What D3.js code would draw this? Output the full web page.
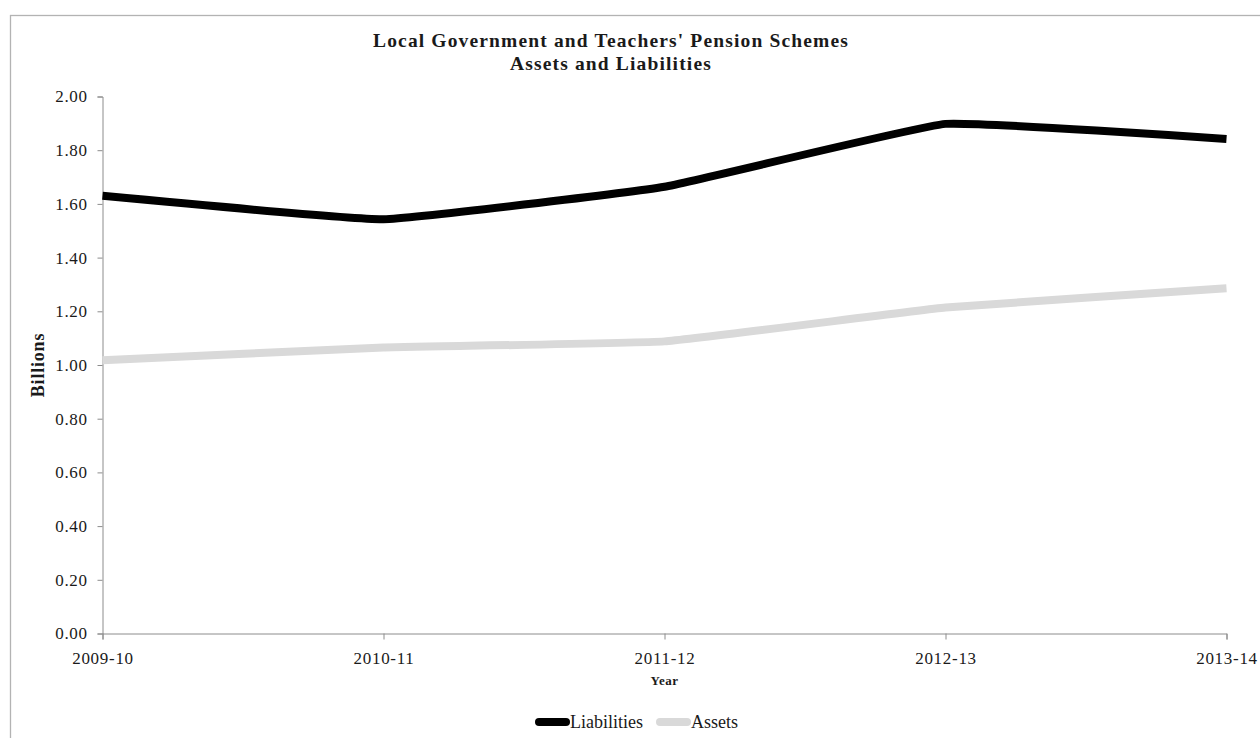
<!DOCTYPE html>
<html>
<head>
<meta charset="utf-8">
<script src="https://cdn.jsdelivr.net/npm/d3@7"></script>
<style>
  html, body { margin: 0; padding: 0; background: #fff; }
  svg { display: block; }
  text { font-family: "Liberation Serif", "Times New Roman", serif; fill: #1a1a1a; }
</style>
</head>
<body>
<svg id="chart" width="1260" height="738"></svg>
<script>
// Fiscal years on the category axis
const years = ["2009-10", "2010-11", "2011-12", "2012-13", "2013-14"];
// Values in billions
const liabilities = [1.63, 1.543, 1.664, 1.898, 1.842];
const assets = [1.018, 1.065, 1.088, 1.214, 1.286];
// Value axis ticks
const yTicks = [0, 0.2, 0.4, 0.6, 0.8, 1.0, 1.2, 1.4, 1.6, 1.8, 2.0];

const seriesList = [
  { name: "Liabilities", values: liabilities, color: "#000000" },
  { name: "Assets", values: assets, color: "#d9d9d9" }
];

const svg = d3.select("#chart");

// Chart frame
svg.append("rect")
  .attr("x", 10.5).attr("y", 15.5)
  .attr("width", 1300).attr("height", 800)
  .attr("fill", "none").attr("stroke", "#b3b3b3").attr("stroke-width", 1.3);

const plot = { left: 102.5, right: 1226.5, top: 96.5, bottom: 633.5 };

const x = d3.scalePoint().domain(years).range([plot.left, plot.right]);
const y = d3.scaleLinear().domain([0, 2]).range([plot.bottom, plot.top]);

// Title
const title = svg.append("text")
  .attr("text-anchor", "middle")
  .style("font-weight", "bold").style("font-size", "19.5px")
  .style("letter-spacing", "1.15px");
title.append("tspan").attr("x", 611).attr("y", 47).text("Local Government and Teachers' Pension Schemes");
title.append("tspan").attr("x", 611).attr("y", 70).text("Assets and Liabilities");

// Value axis
const yAxis = svg.append("g")
  .attr("transform", `translate(${plot.left},0)`)
  .call(d3.axisLeft(y).tickValues(yTicks).tickFormat(d3.format(".2f")).tickSize(5).tickPadding(10));
yAxis.select(".domain").attr("stroke", "#8c8c8c");
yAxis.selectAll(".tick line").attr("stroke", "#8c8c8c");
yAxis.selectAll(".tick text")
  .attr("fill", "#1a1a1a")
  .style("font-family", "'Liberation Serif', serif")
  .style("font-size", "17px")
  .style("letter-spacing", "0.6px");

// Category axis
const xAxis = svg.append("g")
  .attr("transform", `translate(0,${plot.bottom})`)
  .call(d3.axisBottom(x).tickSize(6).tickPadding(12));
xAxis.select(".domain").attr("stroke", "#8c8c8c");
xAxis.selectAll(".tick line").attr("stroke", "#8c8c8c");
xAxis.selectAll(".tick text")
  .attr("fill", "#1a1a1a")
  .style("font-family", "'Liberation Serif', serif")
  .style("font-size", "17px")
  .style("letter-spacing", "0.7px");

// Axis titles
svg.append("text")
  .attr("x", (plot.left + plot.right) / 2).attr("y", 685)
  .attr("text-anchor", "middle")
  .style("font-weight", "bold").style("font-size", "13px")
  .style("letter-spacing", "0.5px")
  .text("Year");

svg.append("text")
  .attr("transform", `translate(44,365) rotate(-90)`)
  .attr("text-anchor", "middle")
  .style("font-weight", "bold").style("font-size", "18px")
  .style("letter-spacing", "0.8px")
  .text("Billions");

// Series lines, lightly smoothed
const line = d3.line()
  .x((d, i) => x(years[i]))
  .y(d => y(d))
  .curve(d3.curveCardinal.tension(0.7));

svg.append("g").selectAll("path")
  .data(seriesList)
  .join("path")
  .attr("d", s => line(s.values))
  .attr("fill", "none")
  .attr("stroke", s => s.color)
  .attr("stroke-width", 8)
  .attr("stroke-linejoin", "round")
  .attr("stroke-linecap", "butt");

// Legend
const legendItems = [
  { name: "Liabilities", color: "#000000", x: 535 },
  { name: "Assets", color: "#d9d9d9", x: 656 }
];
const lg = svg.append("g").selectAll("g")
  .data(legendItems)
  .join("g")
  .attr("transform", d => `translate(${d.x},722)`);
lg.append("line")
  .attr("x1", 4).attr("x2", 31).attr("y1", 0).attr("y2", 0)
  .attr("stroke", d => d.color).attr("stroke-width", 8).attr("stroke-linecap", "round");
lg.append("text")
  .attr("x", 35).attr("y", 6)
  .style("font-size", "18px")
  .text(d => d.name);
</script>
</body>
</html>
